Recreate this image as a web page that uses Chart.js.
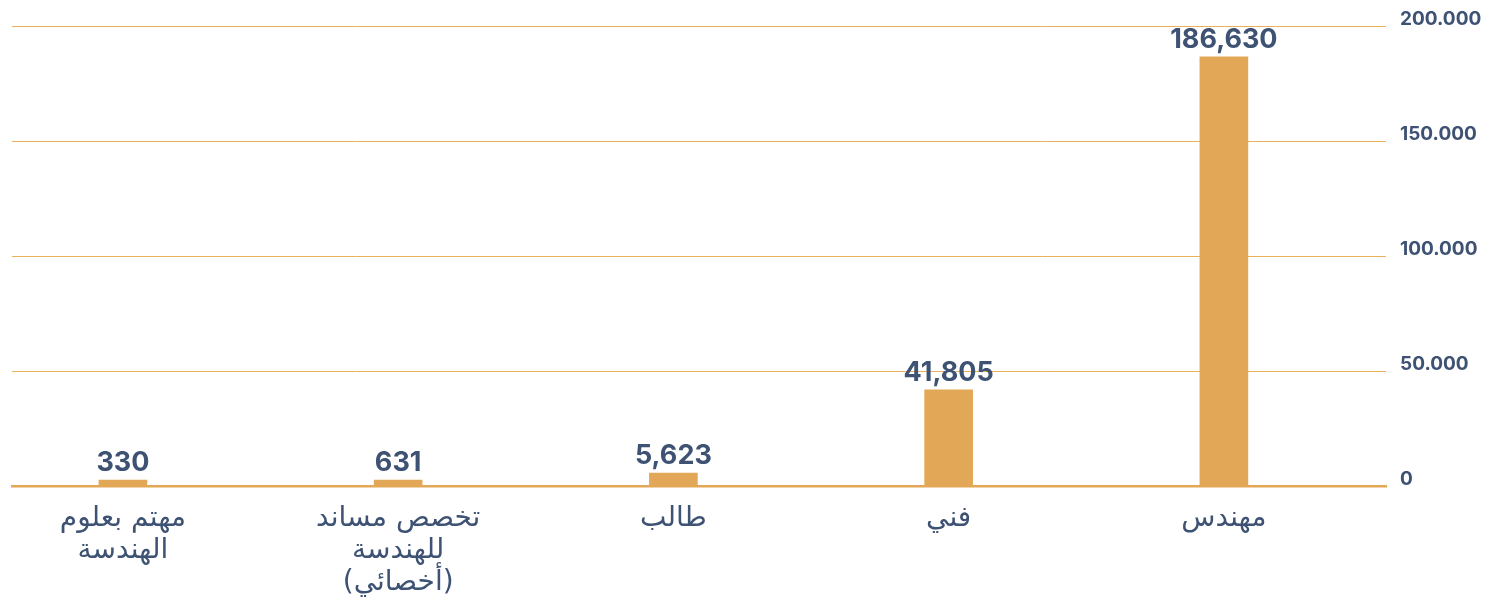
<!DOCTYPE html>
<html>
<head>
<meta charset="utf-8">
<script src="https://cdn.jsdelivr.net/npm/chart.js@4"></script>
<style>
    html, body { margin: 0; padding: 0; background: #fff; }
    #wrap { width: 1487px; height: 598px; }
</style>
</head>
<body>
<div id="wrap"><canvas id="membersChart"></canvas></div>
<script>
const categories = [
    ['مهتم بعلوم', 'الهندسة'],
    ['تخصص مساند', 'للهندسة', '(أخصائي)'],
    'طالب',
    'فني',
    'مهندس'
];
const memberCounts = [330, 631, 5623, 41805, 186630];
const yTicks = [0, 50000, 100000, 150000, 200000];

const textColor = '#3e5273';
const barColor = '#e3a857';
const gridColor = '#eab15c';

// value labels above each bar
const valueLabels = {
    id: 'valueLabels',
    afterDatasetsDraw(chart) {
        const ctx = chart.ctx;
        const meta = chart.getDatasetMeta(0);
        ctx.save();
        ctx.font = 'bold 27px Inter, Roboto, sans-serif';
        ctx.fillStyle = textColor;
        ctx.textAlign = 'center';
        ctx.textBaseline = 'alphabetic';
        meta.data.forEach((bar, i) => {
            ctx.fillText(memberCounts[i].toLocaleString('en-US'), bar.x, bar.y - 9);
        });
        ctx.restore();
    }
};

function createMembersChart() {
    const ctx = document.getElementById('membersChart').getContext('2d');

    return new Chart(ctx, {
        type: 'bar',
        data: {
            datasets: [{
                data: memberCounts.map((v, i) => ({ x: i, y: v })),
                backgroundColor: barColor,
                barThickness: 48,
                minBarLength: 6
            }]
        },
        options: {
            responsive: true,
            maintainAspectRatio: false,
            animation: false,
            layout: {
                padding: { left: 12, right: 0, top: 26, bottom: 0 }
            },
            scales: {
                x: {
                    type: 'linear',
                    min: -0.403,
                    max: 4.589,
                    offset: false,
                    afterFit: (scale) => { scale.height = 112; },
                    grid: { display: false },
                    border: { display: true, color: barColor, width: 2.5 },
                    ticks: {
                        stepSize: 1,
                        includeBounds: false,
                        autoSkip: false,
                        maxRotation: 0,
                        padding: 9,
                        color: textColor,
                        font: { family: 'DejaVu Sans', size: 28, lineHeight: 1.14 },
                        callback: (value) => Number.isInteger(value) ? categories[value] : ''
                    }
                },
                y: {
                    position: 'right',
                    min: 0,
                    max: 200000,
                    afterBuildTicks: (scale) => {
                        scale.ticks = yTicks.map(v => ({ value: v }));
                    },
                    afterFit: (scale) => { scale.width = 101; },
                    grid: {
                        color: () => gridColor,
                        lineWidth: 1,
                        drawTicks: false
                    },
                    border: { display: false },
                    ticks: {
                        padding: 14,
                        labelOffset: -7,
                        color: textColor,
                        font: { family: 'Inter, Roboto, sans-serif', size: 19, weight: 'bold' },
                        callback: (value) => value.toLocaleString('de-DE')
                    }
                }
            },
            plugins: {
                legend: { display: false },
                tooltip: { enabled: false }
            }
        },
        plugins: [valueLabels]
    });
}

document.addEventListener('DOMContentLoaded', createMembersChart);
</script>
</body>
</html>
